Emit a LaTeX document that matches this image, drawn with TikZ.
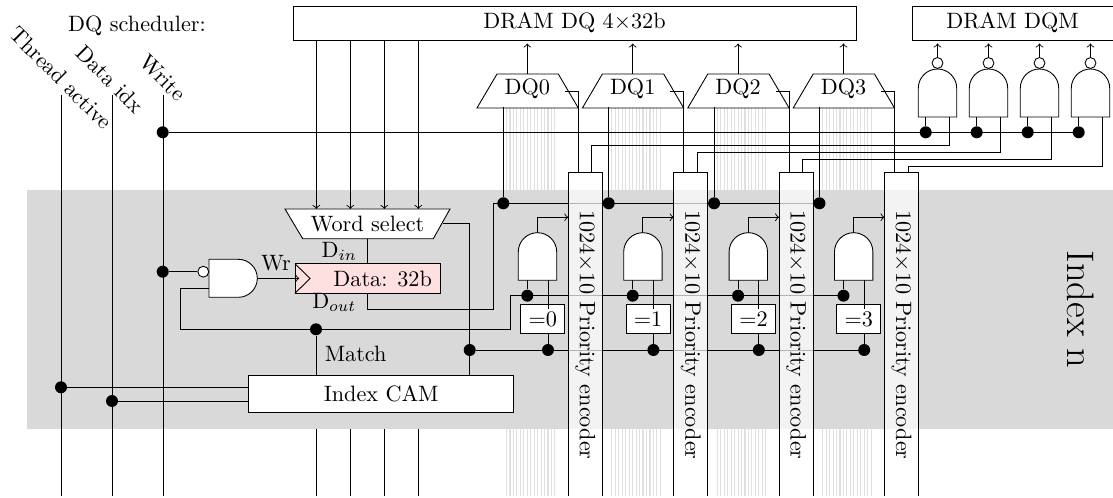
\documentclass[tikz,border=0pt]{standalone}
\usetikzlibrary{calc}
\begin{document}
\begin{tikzpicture}[x=0.45pt,y=-0.45pt,line width=0.4pt,
  boxnode/.style={draw,fill=white,inner sep=0pt,rectangle},
  gateshape/.style={draw,fill=white},
  plain/.style={inner sep=0pt},
  dotnode/.style={circle,fill=black,inner sep=0pt,minimum size=5.4pt},
  bubble/.style={circle,draw,fill=white,inner sep=0pt,minimum size=4.9pt},
  busline/.style={black!12,line width=0.5pt},
  encfill/.style={fill=white,fill opacity=0.7},
  conn/.style={draw}]
\useasboundingbox (0,0) rectangle (1113,498);
\fill[black!15] (27,190) rectangle (1113,429);

% memory bus lines (outside the band)
\foreach \i/\x in {0/0,1/105.4,2/210.8,3/316.2}{
  \foreach \k in {0,...,14}{
    \pgfmathsetmacro{\bx}{506.5+\k*3.46+\x}
    \draw[busline] (\bx,108) -- (\bx,190);
    \draw[busline] (\bx,429) -- (\bx,496);
  }
}

% top boxes
\node[boxnode,minimum width=253.35pt,minimum height=15.3pt] (dq) at (574.5,23) {DRAM DQ 4$\times$32b};
\node[boxnode,minimum width=90.4pt,minimum height=15.3pt] (dqm) at (1012.5,23) {DRAM DQM};
\node[plain] (sched) at (137,26) {DQ scheduler:};

% signal inputs
\node[plain,rotate=-45] (lt) at (61,78) {Thread active};
\node[plain,rotate=-45] (ld) at (110,79) {Data idx};
\node[plain,rotate=-45] (lw) at (163,78) {Write};
\coordinate (tt) at (61,95);
\coordinate (tb) at (61,496);
\coordinate (dt) at (112,95);
\coordinate (db) at (112,496);
\coordinate (wt) at (163,95);
\coordinate (wb) at (163,496);
\draw (tt) -- (tb);
\draw (dt) -- (db);
\draw (wt) -- (wb);

% data word select
\draw[gateshape,fill=white] (285,209) -- (450,209) -- (433.3,238.7) -- (302.7,238.7) -- cycle;
\node[plain] (ws) at (367.5,224) {Word select};
\foreach \n/\x in {a/316.3,b/350.3,c/384.3,d/418.3}{
  \coordinate (ds\n) at (\x,40);
  \coordinate (wi\n) at (\x,209);
  \coordinate (bi\n) at (\x,429);
  \coordinate (be\n) at (\x,496);
  \draw[->] (ds\n) -- (wi\n);
  \draw (bi\n) -- (be\n);
}

% Index CAM
\node[boxnode,minimum width=119.25pt,minimum height=16.9pt] (cam) at (381.2,393.8) {Index CAM};
\node[dotnode] (dta) at (61,387.3) {};
\node[dotnode] (ddi) at (112,401) {};
\draw (dta) -- (dta -| cam.west);
\draw (ddi) -- (ddi -| cam.west);

% data register
\node[draw,fill=red!12,inner sep=0pt,minimum width=65.4pt,minimum height=13.3pt] (reg) at (367.65,278.5) {};
\node[plain] (regt) at (382.7,279) {Data: 32b};
\coordinate (ca) at (295,263.7);
\coordinate (cb) at (310,278.5);
\coordinate (cc) at (295,293.3);
\draw (ca) -- (cb) -- (cc);
\node[plain] (din) at (339.3,251.7) {D$_{in}$};
\node[plain] (dout) at (334.3,302.7) {D$_{out}$};
\coordinate (wsb) at (367.7,238.7);
\draw (wsb) -- (367.7,263.7);

% write gate
\draw[gateshape] (209,259.3) -- (238.3,259.3) arc[start angle=270,end angle=450,radius=19] -- (209,297.3) -- cycle;
\node[bubble] (wb1) at (203.3,271.7) {};
\node[dotnode] (wd) at (162.7,271.7) {};
\draw (wd) -- (wb1);
\coordinate (wo) at (257.3,278.3);
\coordinate (cl) at (299.3,278.3);
\draw[->] (wo) -- (cl);
\node[plain] (wr) at (276,262.7) {Wr};
\node[plain] (match) at (355.7,354) {Match};

% match net
\node[dotnode] (md) at (316,329.3) {};
\coordinate (mt) at (316,375);
\draw (md) -- (mt);
\coordinate (gi) at (209,288.7);
\draw (gi) -- (180.7,288.7) -- (180.7,329.3) -- (md) -- (510.3,329.3) -- (510.3,295.7) -- (843.3,295.7);

% data out net
\coordinate (dou) at (367.7,293.3);
\draw (dou) -- (367.7,309) -- (493.3,309) -- (493.3,203.3) -- (820,203.3);

% word select out net
\coordinate (wso) at (443,223.7);
\coordinate (cw) at (469.7,375.5);
\draw (wso) -- (469.7,223.7) -- (cw);
\node[dotnode] (wsd) at (469.7,350) {};
\draw (wsd) -- (864,350);

% write line
\node[dotnode] (wdq) at (162.7,132.3) {};
\draw (wdq) -- (1078.7,132.3);

% the four slices
\foreach \i/\s in {0/0,1/105.4,2/210.8,3/316.2}{
  % mux
  \pgfmathsetmacro{\xa}{477+\s}
  \pgfmathsetmacro{\xb}{497+\s}
  \pgfmathsetmacro{\xc}{558.3+\s}
  \pgfmathsetmacro{\xd}{578.3+\s}
  \pgfmathsetmacro{\xm}{527.3+\s}
  \pgfmathsetmacro{\xo}{565+\s}
  \pgfmathsetmacro{\xl}{503.3+\s}
  \draw[gateshape] (\xa,108) -- (\xb,74) -- (\xc,74) -- (\xd,108) -- cycle;
  \node[plain] (mux\i) at (\xm,89) {DQ\i};
  \coordinate (mt\i) at (\xm,74);
  \coordinate (mu\i) at (\xm,40);
  \draw[->] (mt\i) -- (\xm,43.5);
  \coordinate (mo\i) at (\xo,91);
  \coordinate (ei\i) at (\xd,172);
  \draw (mo\i) -- (\xd,91) -- (ei\i);
  \node[dotnode] (dd\i) at (\xl,203.3) {};
  \coordinate (ml\i) at (\xl,107);
  \draw (ml\i) -- (dd\i);
  % AND gate
  \pgfmathsetmacro{\ga}{518.3+\s}
  \pgfmathsetmacro{\gb}{556.7+\s}
  \pgfmathsetmacro{\gm}{537.5+\s}
  \pgfmathsetmacro{\gl}{527.3+\s}
  \pgfmathsetmacro{\gr}{548+\s}
  \pgfmathsetmacro{\ge}{568.3+\s}
  \pgfmathsetmacro{\bc}{542.7+\s}
  \node[boxnode,minimum width=19.8pt,minimum height=13pt] (eq\i) at (\bc,319.2) {=\i};
  \draw[gateshape] (\ga,280.3) -- (\ga,251.9) arc[start angle=180,end angle=360,radius=19.2] -- (\gb,280.3) -- cycle;
  \coordinate (go\i) at (\gm,232.7);
  \coordinate (ee\i) at (\ge,217.3);
  \draw[->] (go\i) |- (ee\i);
  \node[dotnode] (gd\i) at (\gl,295.7) {};
  \draw (gd\i) -- (\gl,280.3);
  \node[dotnode] (sd\i) at (\gr,350) {};
  \draw (\gr,280.3) -- (\gr,309);
  \draw (\gr,333.7) -- (sd\i);
}

% DQM gates
\foreach \i/\s/\inx/\outy/\ex in {0/0/949.3/145/591.7,1/51/1000.3/152.7/697.3,2/102/1051.3/159/802.7,3/153/1102.7/166/908.3}{
  \pgfmathsetmacro{\ga}{918.3+\s}
  \pgfmathsetmacro{\gb}{956.7+\s}
  \pgfmathsetmacro{\gm}{937.5+\s}
  \pgfmathsetmacro{\gl}{925.7+\s}
  \draw[gateshape] (\ga,117) -- (\ga,88.2) arc[start angle=180,end angle=360,radius=19.2] -- (\gb,117) -- cycle;
  \node[bubble] (nb\i) at (\gm,63) {};
  \coordinate (nu\i) at (\gm,43.5);
  \draw[->] (nb\i) -- (nu\i);
  \node[dotnode] (nd\i) at (\gl,132.3) {};
  \draw (nd\i) -- (\gl,117);
  \coordinate (ni\i) at (\inx,117);
  \coordinate (ne\i) at (\ex,172);
  \draw (ni\i) -- (\inx,\outy) -- (\ex,\outy) -- (ne\i);
}

% priority encoders
\foreach \i/\s in {0/0,1/105.4,2/210.8,3/316.2}{
  \pgfmathsetmacro{\xa}{568.3+\s}
  \pgfmathsetmacro{\xb}{602.3+\s}
  \pgfmathsetmacro{\xm}{585.3+\s}
  \fill[encfill] (\xa,172) rectangle (\xb,496);
  \draw (\xa,496) -- (\xa,172) -- (\xb,172) -- (\xb,496);
  \node[plain,rotate=-90] (enc\i) at (\xm,335) {1024$\times$10 Priority encoder};
}

% band label
\node[plain,rotate=-90,font=\LARGE] (idx) at (1081,309.4) {Index n};
\end{tikzpicture}
\end{document}
